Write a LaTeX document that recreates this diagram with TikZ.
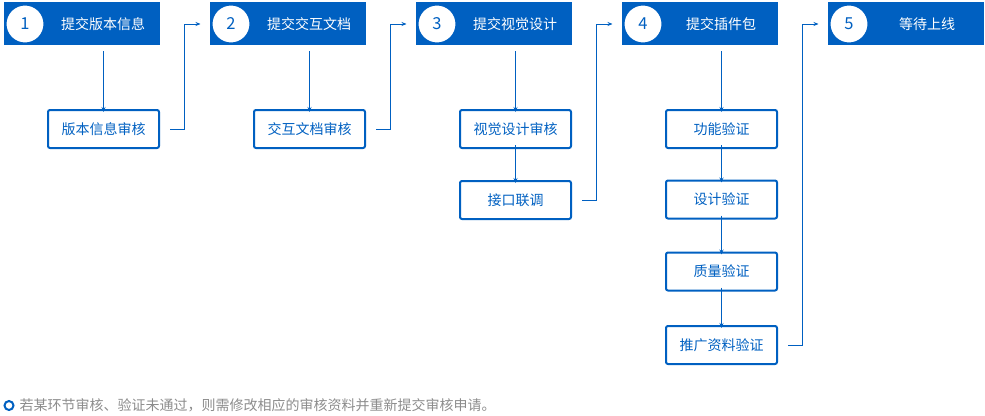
\documentclass[tikz,border=0pt]{standalone}
\usepackage{fontspec}
\setmainfont{Noto Sans CJK SC}
\newfontfamily\cjk{Noto Sans CJK SC}
\usetikzlibrary{arrows.meta,calc}
\definecolor{mblue}{RGB}{0,96,193}
\definecolor{mgray}{RGB}{140,140,140}
\tikzset{
  bar/.style={fill=mblue, draw=none, minimum width=156pt, minimum height=43pt, inner sep=0pt, outer sep=0pt},
  numcirc/.style={circle, fill=white, draw=mblue, line width=2pt, minimum size=39pt, inner sep=0pt, text=mblue, font=\cjk\fontsize{16.5}{18}\selectfont},
  htext/.style={text=white, font=\cjk\fontsize{14}{16}\selectfont, inner sep=0pt},
  stepbox/.style={draw=mblue, line width=2pt, rounded corners=2pt, minimum width=111pt, minimum height=38pt, inner sep=0pt, text=mblue, font=\cjk\fontsize{14}{16}\selectfont},
  arr/.style={draw=mblue, line width=1pt, -{Stealth[length=5pt,width=4pt]}},
  conn/.style={draw=mblue, line width=1pt, -{Stealth[length=5pt,width=4pt]}},
}
\begin{document}
\begin{tikzpicture}[x=1pt,y=-1pt]
\useasboundingbox (0,0) rectangle (985,415);
% headers
\foreach \i/\t in {1/提交版本信息,2/提交交互文档,3/提交视觉设计,4/提交插件包,5/等待上线}{
  \pgfmathsetmacro{\cx}{25+206*(\i-1)}
  \node[bar] (bar\i) at (\cx+57,23.5) {};
  \node[numcirc] (c\i) at (\cx,24) {\i};
  \node[htext] (h\i) at (\cx+78,24) {\t};
}
% boxes
\node[stepbox] (b1) at (103.5,129) {版本信息审核};
\node[stepbox] (b2) at (309.5,129) {交互文档审核};
\node[stepbox] (b3a) at (515.5,129) {视觉设计审核};
\node[stepbox] (b3b) at (515.5,200) {接口联调};
\node[stepbox] (b4a) at (721.5,129) {功能验证};
\node[stepbox] (b4b) at (721.5,199.5) {设计验证};
\node[stepbox] (b4c) at (721.5,271.5) {质量验证};
\node[stepbox] (b4d) at (721.5,345) {推广资料验证};
% down arrows
\draw[arr] (bar1.south -| b1.north) ++(0,6) -- ([yshift=-3pt]b1.north);
\draw[arr] (bar2.south -| b2.north) ++(0,6) -- ([yshift=-3pt]b2.north);
\draw[arr] (bar3.south -| b3a.north) ++(0,6) -- ([yshift=-3pt]b3a.north);
\draw[arr] (bar4.south -| b4a.north) ++(0,6) -- ([yshift=-3pt]b4a.north);
\draw[arr] ([yshift=4pt]b3a.south) -- ([yshift=-3pt]b3b.north);
\draw[arr] ([yshift=4pt]b4a.south) -- ([yshift=-3pt]b4b.north);
\draw[arr] ([yshift=4pt]b4b.south) -- ([yshift=-3pt]b4c.north);
\draw[arr] ([yshift=4pt]b4c.south) -- ([yshift=-3pt]b4d.north);
% connectors
\draw[conn] ([xshift=10pt]b1.east) -- ++(14,0) |- ([xshift=-10pt]c2.west);
\draw[conn] ([xshift=10pt]b2.east) -- ++(14,0) |- ([xshift=-10pt]c3.west);
\draw[conn] ([xshift=10pt]b3b.east) -- ++(14,0) |- ([xshift=-10pt]c4.west);
\draw[conn] ([xshift=10pt]b4d.east) -- ++(14,0) |- ([xshift=-10pt]c5.west);
% footnote
\node[circle, draw=mblue, line width=2pt, minimum size=9pt, inner sep=0pt] (dot) at (9,405.5) {};
\node[anchor=west, text=mgray, font=\cjk\fontsize{14}{16}\selectfont, inner sep=0pt] (note) at (19.5,405.5) {若某环节审核、验证未通过，则需修改相应的审核资料并重新提交审核申请。};
\end{tikzpicture}
\end{document}
